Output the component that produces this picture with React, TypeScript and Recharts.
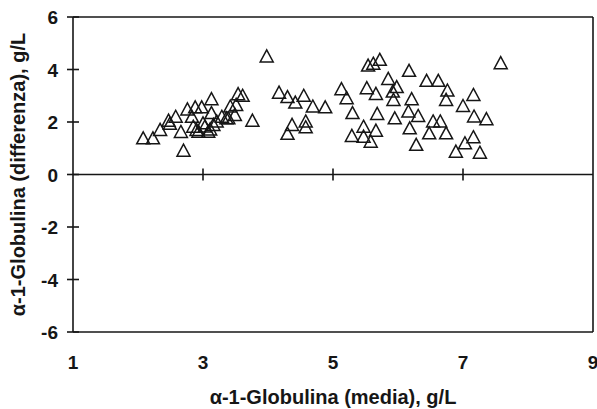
import React from 'react';
import { ScatterChart, Scatter, XAxis, YAxis, ReferenceLine } from 'recharts';

// mean (x) vs difference (y), g/L
const lowRange: [number, number][] = [
  [2.08, 1.38], [2.23, 1.38], [2.34, 1.7], [2.49, 1.93], [2.47, 2.05], [2.58, 2.2],
  [2.66, 1.62], [2.7, 0.91], [2.76, 2.48], [2.83, 2.2], [2.88, 2.56], [2.98, 2.56],
  [2.85, 1.82], [2.9, 1.7], [3.0, 1.95], [3.03, 1.83], [2.93, 1.63], [3.08, 1.63],
  [3.11, 1.72], [3.16, 1.89], [3.13, 2.87], [3.13, 2.34], [3.21, 2.02], [3.29, 2.2],
  [3.36, 2.14], [3.39, 2.14], [3.42, 2.59], [3.49, 2.27], [3.51, 2.65], [3.54, 3.06],
  [3.61, 3.0], [3.76, 2.05], [3.98, 4.5],
];
const midRange: [number, number][] = [
  [4.17, 3.12], [4.3, 2.95], [4.42, 2.74], [4.55, 3.0], [4.69, 2.59], [4.88, 2.56],
  [4.37, 1.89], [4.58, 2.02], [4.58, 1.8], [4.3, 1.55], [5.13, 3.25], [5.21, 2.91],
  [5.3, 2.34], [5.29, 1.47], [5.47, 1.82], [5.47, 1.44], [5.58, 1.25], [5.66, 1.67],
  [5.68, 2.31], [5.52, 3.29], [5.66, 3.07], [5.54, 4.15], [5.62, 4.22], [5.72, 4.37],
  [5.85, 3.64], [5.98, 3.33], [5.92, 3.16], [5.93, 2.84], [5.95, 2.14],
];
const highRange: [number, number][] = [
  [6.17, 3.95], [6.21, 2.87], [6.16, 2.4], [6.31, 2.23], [6.18, 1.76], [6.28, 1.13],
  [6.48, 1.57], [6.54, 2.02], [6.44, 3.57], [6.62, 3.57], [6.76, 3.2], [6.74, 2.84],
  [6.74, 1.57], [6.65, 2.02], [7.0, 2.61], [7.16, 3.03], [7.17, 2.21], [7.36, 2.11],
  [6.89, 0.87], [7.03, 1.19], [7.16, 1.42], [7.26, 0.83], [7.58, 4.24],
];

const xTicks = [1, 3, 5, 7, 9];
const yTicks = [-6, -4, -2, 0, 2, 4, 6];
const xTitle = 'α-1-Globulina (media), g/L';
const yTitle = 'α-1-Globulina (differenza), g/L';

const W = 597;
const H = 409;
const M = { top: 17, right: 4, left: 0, bottom: 0 };
const Y_AXIS_W = 73;
const X_AXIS_H = 77;
const PLOT_TOP = M.top;
const PLOT_BOTTOM = H - M.bottom - X_AXIS_H;
const ZERO_Y = PLOT_TOP + (PLOT_BOTTOM - PLOT_TOP) / 2; // domain is symmetric -6..6

const INK = '#161616';
const FONT = '"Liberation Sans", Arial, sans-serif';

const data = [...lowRange, ...midRange, ...highRange].map(([x, y]) => ({ x, y }));

const Triangle = (props: any) => {
  const { cx, cy } = props;
  if (cx == null || cy == null) return null;
  const h = 6.5;
  return (
    <polygon
      points={`${cx},${cy - h} ${cx + h},${cy + h * 0.85} ${cx - h},${cy + h * 0.85}`}
      fill="none"
      stroke={INK}
      strokeWidth={1.5}
    />
  );
};

const XTick = (props: any) => {
  const { x, payload } = props;
  const v = payload.value;
  return (
    <g>
      {v > 1 && v < 9 ? (
        <line x1={x} x2={x} y1={ZERO_Y - 6} y2={ZERO_Y + 6} stroke={INK} strokeWidth={1.6} />
      ) : null}
      <text x={x} y={PLOT_BOTTOM + 37} textAnchor="middle" fontFamily={FONT} fontWeight="bold" fontSize={19} fill={INK}>
        {v}
      </text>
    </g>
  );
};

const YTick = (props: any) => {
  const { y, payload } = props;
  return (
    <g>
      <line x1={Y_AXIS_W - 6} x2={Y_AXIS_W + 6} y1={y} y2={y} stroke={INK} strokeWidth={1.6} />
      <text x={Y_AXIS_W - 15} y={y + 7} textAnchor="end" fontFamily={FONT} fontWeight="bold" fontSize={19} fill={INK}>
        {payload.value}
      </text>
    </g>
  );
};

export default function App() {
  return (
    <div style={{ position: 'absolute', left: 0, top: 0, width: W, height: H, background: '#fff' }}>
      <ScatterChart width={W} height={H} margin={M}>
        <XAxis
          type="number"
          dataKey="x"
          domain={[1, 9]}
          ticks={xTicks}
          interval={0}
          height={X_AXIS_H}
          axisLine={{ stroke: INK, strokeWidth: 1.6 }}
          tickLine={false}
          tick={<XTick />}
          label={{
            value: xTitle,
            position: 'insideBottom',
            offset: 5,
            style: { fontFamily: FONT, fontWeight: 'bold', fontSize: 20, fill: INK },
          }}
        />
        <YAxis
          type="number"
          dataKey="y"
          domain={[-6, 6]}
          ticks={yTicks}
          interval={0}
          width={Y_AXIS_W}
          axisLine={{ stroke: INK, strokeWidth: 1.6 }}
          tickLine={false}
          tick={<YTick />}
          label={{
            value: yTitle,
            angle: -90,
            position: 'insideLeft',
            offset: 18,
            style: { textAnchor: 'middle', fontFamily: FONT, fontWeight: 'bold', fontSize: 20, fill: INK },
          }}
        />
        <ReferenceLine y={6} stroke={INK} strokeWidth={1.6} />
        <ReferenceLine x={9} stroke={INK} strokeWidth={1.6} />
        <ReferenceLine y={0} stroke={INK} strokeWidth={1.6} />
        <Scatter data={data} shape={<Triangle />} isAnimationActive={false} />
      </ScatterChart>
    </div>
  );
}
